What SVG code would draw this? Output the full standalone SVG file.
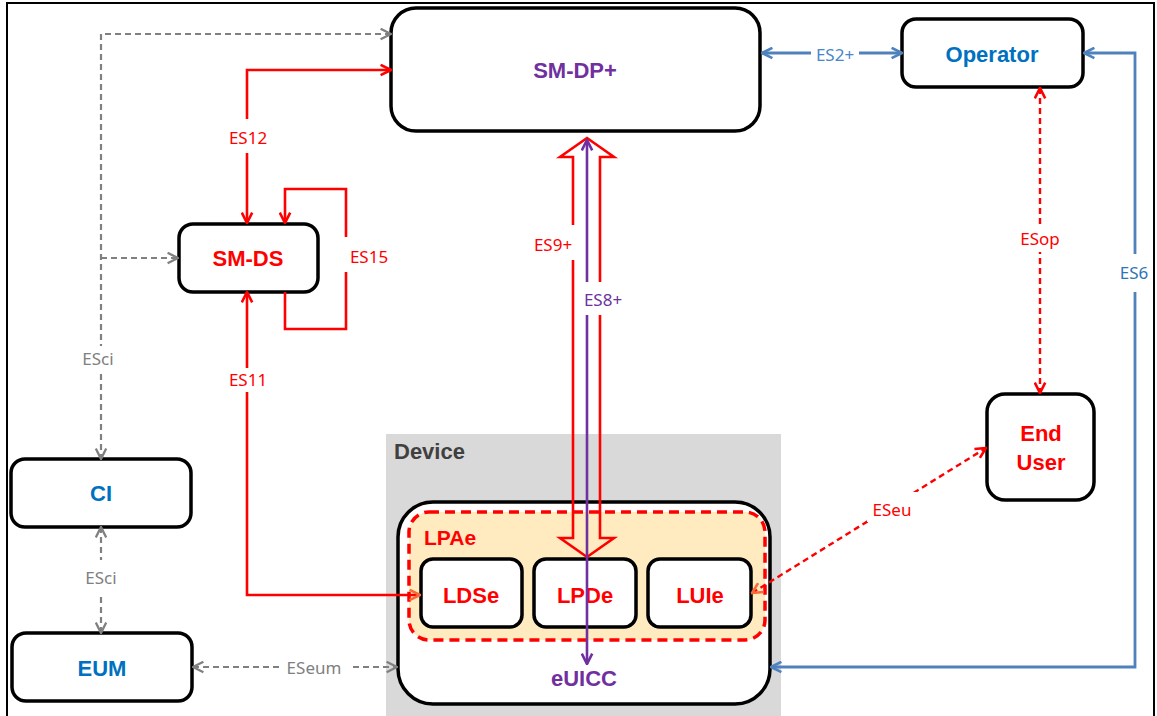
<svg xmlns="http://www.w3.org/2000/svg" width="1157" height="716" viewBox="0 0 1157 716">
<defs>
<style>
.node{fill:#fff;stroke:#000;stroke-width:3.5}
.nt{font-family:"Liberation Sans",Arial,sans-serif;font-weight:bold;font-size:22px;text-anchor:middle}
.lb{font-family:"Noto Sans","Liberation Sans",sans-serif;font-size:17px;text-anchor:middle}
.gap{fill:#fff}
.c{fill:none}
.red{stroke:#FF0000;stroke-width:2.6}
.redd{stroke:#FF0000;stroke-width:2.4;stroke-dasharray:6 4}
.gray{stroke:#808080;stroke-width:2.2;stroke-dasharray:6 4}
.blue{stroke:#4F81BD;stroke-width:2.8}
.pur{stroke:#7030A0;stroke-width:2.6}
</style>
<marker id="aR" viewBox="0 0 10 10" refX="9" refY="5" markerUnits="userSpaceOnUse" markerWidth="13" markerHeight="13" orient="auto-start-reverse"><path d="M1,1 L9,5 L1,9" fill="none" stroke="#FF0000" stroke-width="2"/></marker>
<marker id="aO" viewBox="0 0 10 10" refX="9" refY="5" markerUnits="userSpaceOnUse" markerWidth="13" markerHeight="13" orient="auto-start-reverse"><path d="M1,1 L9,5 L1,9" fill="none" stroke="#F76B3A" stroke-width="2"/></marker>
<marker id="aG" viewBox="0 0 10 10" refX="9" refY="5" markerUnits="userSpaceOnUse" markerWidth="13" markerHeight="13" orient="auto-start-reverse"><path d="M1,1 L9,5 L1,9" fill="none" stroke="#808080" stroke-width="1.8"/></marker>
<marker id="aB" viewBox="0 0 10 10" refX="9" refY="5" markerUnits="userSpaceOnUse" markerWidth="13" markerHeight="13" orient="auto-start-reverse"><path d="M1,1 L9,5 L1,9" fill="none" stroke="#4F81BD" stroke-width="2"/></marker>
<marker id="aP" viewBox="0 0 10 10" refX="9" refY="5" markerUnits="userSpaceOnUse" markerWidth="13" markerHeight="13" orient="auto-start-reverse"><path d="M1,1 L9,5 L1,9" fill="none" stroke="#7030A0" stroke-width="2"/></marker>
</defs>
<rect x="0" y="0" width="1157" height="716" fill="#fff"/>
<rect x="7" y="3" width="1147" height="730" fill="none" stroke="#000" stroke-width="2"/>

<g id="device">
<rect x="386" y="434" width="395" height="290" fill="#D9D9D9"/>
<text x="394" y="459" class="nt" style="text-anchor:start" fill="#404040">Device</text>
</g>
<g id="euicc">
<rect x="398" y="502" width="372" height="202" rx="35" class="node"/>
<text x="584" y="686" class="nt" fill="#7030A0">eUICC</text>
</g>
<g id="lpae">
<rect x="409" y="512" width="356" height="128" rx="20" fill="#FFEBBF" stroke="#FF0000" stroke-width="3.5" stroke-dasharray="10 6"/>
<text x="424" y="545" class="nt" style="text-anchor:start;font-size:21px" fill="#FF0000">LPAe</text>
</g>
<g id="ldse"><rect x="421" y="559" width="101" height="68" rx="12" class="node"/><text x="471" y="603" class="nt" fill="#FF0000">LDSe</text></g>
<g id="lpde"><rect x="534" y="559" width="102" height="68" rx="12" class="node"/><text x="585" y="603" class="nt" fill="#FF0000">LPDe</text></g>
<g id="luie"><rect x="648" y="559" width="103" height="68" rx="12" class="node"/><text x="700" y="603" class="nt" fill="#FF0000">LUIe</text></g>

<g id="smdp"><rect x="391" y="8" width="369" height="123" rx="25" class="node"/><text x="575" y="78" class="nt" fill="#7030A0">SM-DP+</text></g>
<g id="operator"><rect x="902" y="19" width="181" height="68" rx="14" class="node"/><text x="992" y="62" class="nt" fill="#0070C0">Operator</text></g>
<g id="smds"><rect x="179" y="224" width="139" height="68" rx="14" class="node"/><text x="248" y="266" class="nt" fill="#FF0000">SM-DS</text></g>
<g id="ci"><rect x="11" y="459" width="180" height="68" rx="14" class="node"/><text x="101" y="501" class="nt" fill="#0070C0">CI</text></g>
<g id="eum"><rect x="12" y="633" width="180" height="68" rx="14" class="node"/><text x="102" y="676" class="nt" fill="#0070C0">EUM</text></g>
<g id="enduser"><rect x="987" y="394" width="107" height="106" rx="18" class="node"/><text x="1041" y="441" class="nt" fill="#FF0000">End</text><text x="1041" y="470" class="nt" fill="#FF0000">User</text></g>

<g id="connectors">
<path class="c gray" d="M391,34 L101,34 L101,459" marker-start="url(#aG)" marker-end="url(#aG)"/>
<path class="c gray" d="M101,258 L178,258" marker-end="url(#aG)"/>
<path class="c gray" d="M101,527 L101,633" marker-start="url(#aG)" marker-end="url(#aG)"/>
<path class="c gray" d="M193,667 L397,667" marker-start="url(#aG)" marker-end="url(#aG)"/>
<path class="c red" d="M247,223 L247,70 L391,70" marker-start="url(#aR)" marker-end="url(#aR)"/>
<path class="c red" d="M285,292 L285,329 L346,329 L346,189 L285,189 L285,223" marker-end="url(#aR)"/>
<path class="c red" d="M247,292 L247,595 L420,595" marker-start="url(#aR)" marker-end="url(#aO)"/>
<path class="c red" d="M573,157 L560,157 L587,138 L614,157 L600,157 L600,538 L614,538 L587,557 L560,538 L573,538 Z"/>
<path class="c pur" d="M587,140 L587,664" marker-start="url(#aP)" marker-end="url(#aP)"/>
<path class="c blue" d="M762,53 L902,53" marker-start="url(#aB)" marker-end="url(#aB)"/>
<path class="c blue" d="M1084,53 L1135,53 L1135,667 L771,667" marker-start="url(#aB)" marker-end="url(#aB)"/>
<path class="c redd" d="M1040,88 L1040,393" marker-start="url(#aR)" marker-end="url(#aR)"/>
<path class="c redd" d="M752,593 L986,448" marker-start="url(#aO)" marker-end="url(#aR)"/>

<rect class="gap" x="80" y="346" width="40" height="24"/><text class="lb" x="98" y="365" fill="#808080">ESci</text>
<rect class="gap" x="82" y="560" width="40" height="36"/><text class="lb" x="101" y="584" fill="#808080">ESci</text>
<rect class="gap" x="279" y="657" width="70" height="22"/><text class="lb" x="314" y="674" fill="#808080">ESeum</text>
<rect class="gap" x="225" y="119" width="46" height="34"/><text class="lb" x="248" y="144" fill="#FF0000">ES12</text>
<rect class="gap" x="343" y="237" width="50" height="35"/><text class="lb" x="369" y="263" fill="#FF0000">ES15</text>
<rect class="gap" x="225" y="368" width="46" height="24"/><text class="lb" x="248" y="386" fill="#FF0000">ES11</text>
<rect class="gap" x="531" y="225" width="45" height="35"/><text class="lb" x="553" y="251" fill="#FF0000">ES9+</text>
<rect class="gap" x="582" y="282" width="42" height="33"/><text class="lb" x="603" y="306" fill="#7030A0">ES8+</text>
<rect class="gap" x="811" y="43" width="48" height="22"/><text class="lb" x="835" y="61" fill="#4A86C8">ES2+</text>
<rect class="gap" x="1016" y="228" width="48" height="24"/><text class="lb" x="1040" y="245" fill="#FF0000">ESop</text>
<rect class="gap" x="1117" y="254" width="34" height="38"/><text class="lb" x="1134" y="279" fill="#2E75B6">ES6</text>
<rect class="gap" x="867" y="492" width="50" height="30"/><text class="lb" x="892" y="516" fill="#FF0000">ESeu</text>
</g>
</svg>
